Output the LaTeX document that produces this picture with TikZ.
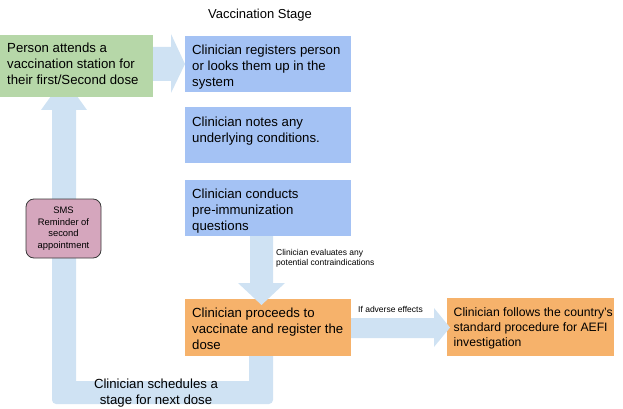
\documentclass[tikz,border=0pt]{standalone}
\usepackage{fontspec}
\setmainfont{Liberation Sans}
\usetikzlibrary{calc}
\definecolor{cgreen}{HTML}{B6D7A8}
\definecolor{cblue}{HTML}{A4C2F4}
\definecolor{corange}{HTML}{F6B26B}
\definecolor{carrow}{HTML}{CFE2F3}
\definecolor{cpink}{HTML}{D5A6BD}
\definecolor{cborder}{HTML}{3A3A3A}
\begin{document}
\begin{tikzpicture}[x=1pt,y=-1pt,
  box/.style={inner sep=0pt, anchor=north west, draw=none},
  txt/.style={inner sep=0pt, anchor=north west, align=left, font=\fontsize{13.2}{16}\selectfont},
  small/.style={inner sep=0pt, anchor=west, align=left, font=\fontsize{8.5}{10}\selectfont},
  fat/.style={fill=carrow}]
\useasboundingbox (0,0) rectangle (623,409);

% title
\node[inner sep=0pt, font=\fontsize{13}{16}\selectfont] (title) at (260,15.5) {Vaccination Stage};

% loop arrow (behind boxes)
\fill[fat] (249,350) -- (249,381) -- (76,381) -- (76,110) -- (87,110) -- (64,78) -- (41,110) -- (52,110)
  [rounded corners=4pt] -- (52,404) -- (273,404) [sharp corners] -- (273,350) -- cycle;

% arrow green -> blue1
\fill[fat] (150,47) -- (171,47) -- (171,34) -- (185,64) -- (171,93) -- (171,81) -- (150,81) -- cycle;

% boxes
\node[box, fill=cgreen, minimum width=153pt, minimum height=62pt] (g) at (0,35) {};
\node[box, fill=cblue, minimum width=166pt, minimum height=56pt] (b1) at (185,36) {};
\node[box, fill=cblue, minimum width=166pt, minimum height=56pt] (b2) at (185,107) {};
\node[box, fill=cblue, minimum width=166pt, minimum height=56pt] (b3) at (185,180) {};
\node[box, fill=corange, minimum width=166pt, minimum height=57pt] (o1) at (185,299) {};
\node[box, fill=corange, minimum width=167pt, minimum height=58pt] (o2) at (447,298) {};

% arrow blue3 -> orange1
\fill[fat] (250,236) -- (250,283) -- (238,283) -- (261.5,305) -- (285,283) -- (273,283) -- (273,236) -- cycle;
% arrow orange1 -> orange2
\fill[fat] (351,318) -- (434,318) -- (434,308) -- (450,327.5) -- (434,347) -- (434,338) -- (351,338) -- cycle;

% box texts
\node[txt] (tg) at ($(g.north west)+(7,8)$) {Person attends a\\vaccination station for\\their first/Second dose};
\node[txt] (t1) at ($(b1.north west)+(7,9)$) {Clinician registers person\\or looks them up in the\\system};
\node[txt] (t2) at ($(b2.north west)+(7,10)$) {Clinician notes any\\underlying conditions.};
\node[txt] (t3) at ($(b3.north west)+(7,9)$) {Clinician conducts\\pre-immunization\\questions};
\node[txt] (to1) at ($(o1.north west)+(7,9)$) {Clinician proceeds to\\vaccinate and register the\\dose};
\node[txt, font=\fontsize{12.2}{15}\selectfont] (to2) at ($(o2.north west)+(6.5,9)$) {Clinician follows the country’s\\standard procedure for AEFI\\investigation};

% SMS box
\node[draw=cborder, line width=0.8pt, fill=cpink, rounded corners=8pt, minimum width=75pt, minimum height=59pt,
  inner sep=0pt, align=center, font=\fontsize{9.4}{11.6}\selectfont] (sms) at (63.5,228.5)
  {SMS\\Reminder of\\second\\appointment};

% labels
\node[small] (leval) at (276,258) {Clinician evaluates any\\potential contraindications};
\node[small] (ladv) at (358,309.5) {If adverse effects};
\node[inner sep=0pt, align=center, font=\fontsize{13.2}{16}\selectfont] (lsched) at (156,393.5) {Clinician schedules a\\stage for next dose};
\end{tikzpicture}
\end{document}
